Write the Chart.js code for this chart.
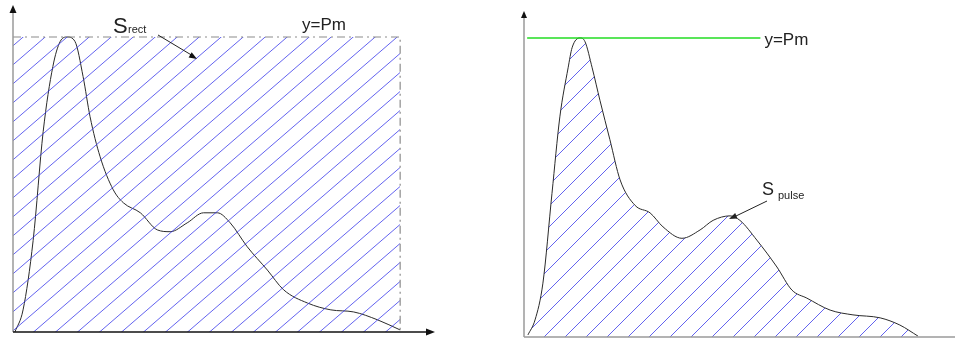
<!DOCTYPE html>
<html>
<head>
<meta charset="utf-8">
<script src="https://cdn.jsdelivr.net/npm/chart.js@4"></script>
<style>
  body { margin: 0; background: #fff; width: 955px; height: 341px; overflow: hidden; position: relative; }
  canvas { position: absolute; top: 0; }
  #leftChart { left: 0; }
  #rightChart { left: 440px; }
</style>
</head>
<body>
<canvas id="leftChart" width="440" height="341"></canvas>
<canvas id="rightChart" width="515" height="341"></canvas>
<script>
// pulse power vs time (Pm = 1, pulse ends at t = 100)
const Pm = 1;
const rectEnd = 100;
const leftTime = [0.5, 2.6, 5.2, 7.8, 10.3, 12.2, 14.0, 16.0, 18.1, 19.9, 22.5, 25.9, 28.5, 32.9, 37.3, 40.6, 45.0, 49.2, 52.8, 56.1, 60.5, 65.7, 69.9, 76.1, 82.1, 88.0, 94.2, 100];
const leftPower = [0, 0.075, 0.31, 0.68, 0.90, 0.985, 1.0, 0.985, 0.866, 0.73, 0.594, 0.482, 0.438, 0.404, 0.346, 0.34, 0.37, 0.404, 0.404, 0.37, 0.289, 0.21, 0.143, 0.098, 0.075, 0.068, 0.041, 0.007];
const rightTime = [1.0, 2.8, 4.8, 7.1, 9.1, 11.2, 12.2, 14.2, 15.5, 17.3, 19.3, 21.8, 24.4, 28.2, 32.0, 35.3, 40.1, 44.7, 48.0, 52.3, 54.8, 59.1, 64.2, 68.0, 71.8, 77.7, 83.5, 90.4, 95.4, 100];
const rightPower = [0.007, 0.057, 0.18, 0.48, 0.736, 0.90, 0.967, 1.0, 0.987, 0.90, 0.79, 0.66, 0.525, 0.44, 0.415, 0.368, 0.33, 0.358, 0.39, 0.405, 0.39, 0.324, 0.234, 0.157, 0.13, 0.09, 0.074, 0.064, 0.04, 0.003];
const pmLineStart = 0.8;
const pmLineEnd = 60;

const FONT = '"Liberation Sans", Arial, sans-serif';

function toPoints(xs, ys) {
    return xs.map((x, i) => ({ x: x, y: ys[i] }));
}

// diagonal hatching as a canvas pattern
function hatch(w, h, color) {
    const c = document.createElement('canvas');
    c.width = w;
    c.height = h;
    const g = c.getContext('2d');
    g.strokeStyle = color;
    g.lineWidth = 1;
    for (let k = -1; k <= 1; k++) {
        g.beginPath();
        g.moveTo(k * w - w, 2 * h);
        g.lineTo(k * w + 2 * w, -h);
        g.stroke();
    }
    return g.createPattern(c, 'repeat');
}

function arrowHead(ctx, x, y, angle, len, half) {
    ctx.save();
    ctx.translate(x, y);
    ctx.rotate(angle);
    ctx.beginPath();
    ctx.moveTo(0, 0);
    ctx.lineTo(-len, -half);
    ctx.lineTo(-len, half);
    ctx.closePath();
    ctx.fill();
    ctx.restore();
}

function baseOptions(xMax, yMax, padding) {
    return {
        responsive: false,
        devicePixelRatio: 1,
        animation: false,
        layout: { padding: padding },
        elements: { point: { radius: 0 } },
        plugins: { legend: { display: false }, tooltip: { enabled: false } },
        scales: {
            x: { type: 'linear', min: 0, max: xMax, display: false },
            y: { min: 0, max: yMax, display: false }
        }
    };
}

// left panel: rectangle Pm x T
const leftDecor = {
    id: 'leftDecor',
    afterDatasetsDraw(chart) {
        const ctx = chart.ctx;
        const xs = chart.scales.x, ys = chart.scales.y;
        const x0 = xs.getPixelForValue(0), y0 = ys.getPixelForValue(0);
        const a = chart.chartArea;
        ctx.save();
        // y axis
        ctx.strokeStyle = '#9a9a9a';
        ctx.lineWidth = 1.5;
        ctx.beginPath();
        ctx.moveTo(x0, y0);
        ctx.lineTo(x0, a.top + 6);
        ctx.stroke();
        ctx.fillStyle = '#111';
        arrowHead(ctx, x0, a.top - 1, -Math.PI / 2, 8, 3.5);
        // x axis
        ctx.strokeStyle = '#111';
        ctx.lineWidth = 1.5;
        ctx.beginPath();
        ctx.moveTo(x0, y0);
        ctx.lineTo(a.right - 6, y0);
        ctx.stroke();
        arrowHead(ctx, a.right, y0, 0, 9, 3.5);
        // labels
        const yPm = ys.getPixelForValue(Pm);
        ctx.fillStyle = '#222';
        ctx.textBaseline = 'alphabetic';
        ctx.font = '22px ' + FONT;
        ctx.fillText('S', 113, yPm - 4);
        ctx.font = '11px ' + FONT;
        ctx.fillText('rect', 128, yPm - 4);
        ctx.font = '17px ' + FONT;
        ctx.fillText('y=Pm', 302, yPm - 7);
        // pointer
        ctx.strokeStyle = '#222';
        ctx.lineWidth = 1;
        ctx.beginPath();
        ctx.moveTo(158, yPm - 2);
        ctx.lineTo(193, yPm + 19);
        ctx.stroke();
        ctx.fillStyle = '#111';
        arrowHead(ctx, 197, yPm + 22, Math.atan2(21, 35), 8, 3);
        ctx.restore();
    }
};

// right panel: area under the pulse
const rightDecor = {
    id: 'rightDecor',
    afterDatasetsDraw(chart) {
        const ctx = chart.ctx;
        const xs = chart.scales.x, ys = chart.scales.y;
        const x0 = xs.getPixelForValue(0), y0 = ys.getPixelForValue(0);
        const a = chart.chartArea;
        ctx.save();
        ctx.strokeStyle = '#9a9a9a';
        ctx.lineWidth = 1.5;
        ctx.beginPath();
        ctx.moveTo(x0, y0);
        ctx.lineTo(x0, a.top + 5);
        ctx.stroke();
        ctx.beginPath();
        ctx.moveTo(x0, y0);
        ctx.lineTo(a.right, y0);
        ctx.stroke();
        ctx.fillStyle = '#111';
        arrowHead(ctx, x0, a.top, -Math.PI / 2, 7, 3);
        const yPm = ys.getPixelForValue(Pm);
        const xEnd = xs.getPixelForValue(pmLineEnd);
        ctx.fillStyle = '#222';
        ctx.textBaseline = 'middle';
        ctx.font = '17px ' + FONT;
        ctx.fillText('y=Pm', xEnd + 4, yPm + 2);
        ctx.textBaseline = 'alphabetic';
        const ox = chart.canvas.offsetLeft;
        ctx.font = '18px ' + FONT;
        ctx.fillText('S', 762 - ox, 195);
        ctx.font = '11px ' + FONT;
        ctx.fillText('pulse', 778 - ox, 199);
        ctx.strokeStyle = '#222';
        ctx.lineWidth = 1;
        ctx.beginPath();
        ctx.moveTo(767 - ox, 201);
        ctx.lineTo(736 - ox, 216);
        ctx.stroke();
        arrowHead(ctx, 729 - ox, 219, Math.atan2(3, -7), 8, 3);
        ctx.restore();
    }
};

const leftCtx = document.getElementById('leftChart').getContext('2d');
new Chart(leftCtx, {
    type: 'line',
    data: {
        datasets: [
            {
                data: toPoints([0, rectEnd, rectEnd], [Pm, Pm, 0]),
                borderColor: '#8c8c8c',
                borderWidth: 1.2,
                borderDash: [8, 4, 2, 4],
                backgroundColor: hatch(22, 19, 'rgba(55,55,235,0.78)'),
                fill: 'origin',
                tension: 0
            },
            {
                data: toPoints(leftTime, leftPower),
                borderColor: '#2a2a2a',
                borderWidth: 1,
                fill: false,
                cubicInterpolationMode: 'monotone'
            }
        ]
    },
    options: baseOptions(109, 1.105, { left: 13, right: 5, top: 6, bottom: 9 }),
    plugins: [leftDecor]
});

const rightCtx = document.getElementById('rightChart').getContext('2d');
new Chart(rightCtx, {
    type: 'line',
    data: {
        datasets: [
            {
                data: toPoints([pmLineStart, pmLineEnd], [Pm, Pm]),
                borderColor: '#22dd22',
                borderWidth: 1.5,
                fill: false
            },
            {
                data: toPoints(rightTime, rightPower),
                borderColor: '#2a2a2a',
                borderWidth: 1,
                backgroundColor: hatch(21, 21, 'rgba(55,55,235,0.78)'),
                fill: 'origin',
                cubicInterpolationMode: 'monotone'
            }
        ]
    },
    options: baseOptions(109.4, 1.09, { left: 84, right: 0, top: 11, bottom: 4 }),
    plugins: [rightDecor]
});
</script>
</body>
</html>
